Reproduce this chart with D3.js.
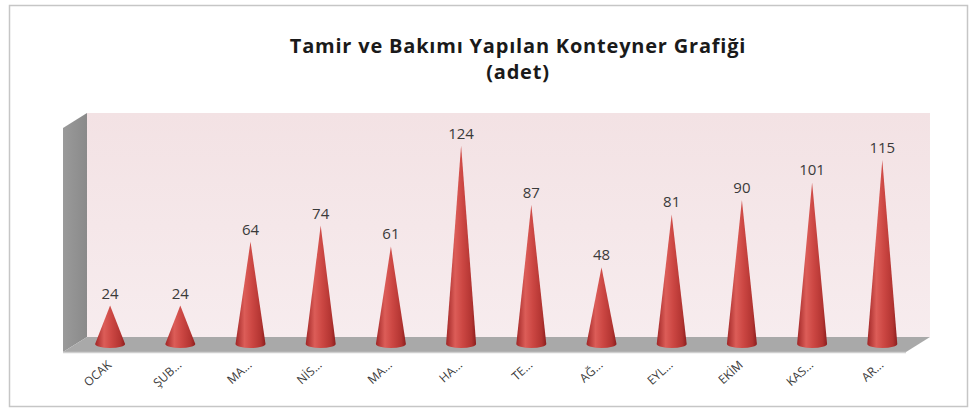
<!DOCTYPE html>
<html>
<head>
<meta charset="utf-8">
<script src="https://cdn.jsdelivr.net/npm/d3@7"></script>
<style>
  html, body { margin: 0; padding: 0; background: #fff; }
  svg { display: block; }
</style>
</head>
<body>
<svg id="chart"></svg>
<script>
var width = 974;
var height = 412;

var months = ['OCAK', 'ŞUB...', 'MA...', 'NİS...', 'MA...', 'HA...', 'TE...', 'AĞ...', 'EYL...', 'EKİM', 'KAS...', 'AR...'];
var counts = [24, 24, 64, 74, 61, 124, 87, 48, 81, 90, 101, 115];
var titleLines = ['Tamir ve Bakımı Yapılan Konteyner Grafiği', '(adet)'];

var data = months.map(function(m, i) { return {month: m, value: counts[i], idx: i}; });

// 3d box geometry
var depth = {dx: 24, dy: -15};
var floorFront = 352;
var wallLeft = 63;
var wallRight = 906;
var base = floorFront + depth.dy / 2 - 0.5;

var svg = d3.select('#chart')
	.attr('width', width)
	.attr('height', height);

var defs = svg.append('defs');

var coneGrad = defs.append('linearGradient')
	.attr('id', 'coneGrad')
	.attr('x1', '0').attr('x2', '1').attr('y1', '0').attr('y2', '0');
[['0%', '#a02626'], ['30%', '#dc5d58'], ['55%', '#cc4743'], ['85%', '#b23431'], ['100%', '#8c1e1e']].forEach(function(s) {
	coneGrad.append('stop').attr('offset', s[0]).attr('stop-color', s[1]);
});

var sideGrad = defs.append('linearGradient')
	.attr('id', 'sideGrad')
	.attr('x1', '0').attr('x2', '1').attr('y1', '0').attr('y2', '0');
sideGrad.append('stop').attr('offset', '0%').attr('stop-color', '#9a9a9a');
sideGrad.append('stop').attr('offset', '100%').attr('stop-color', '#8a8a8a');

var wallGrad = defs.append('linearGradient')
	.attr('id', 'wallGrad')
	.attr('x1', '0').attr('x2', '0').attr('y1', '0').attr('y2', '1');
wallGrad.append('stop').attr('offset', '0%').attr('stop-color', '#f3e2e4');
wallGrad.append('stop').attr('offset', '100%').attr('stop-color', '#f7ecee');

// outer frame
svg.append('rect')
	.attr('x', 9.5).attr('y', 5.5)
	.attr('width', 958).attr('height', 401)
	.attr('fill', '#fff')
	.attr('stroke', '#c6c6c6')
	.attr('stroke-width', 1.5);

// scales
var x = d3.scaleBand()
	.range([75, 75 + 70.2 * months.length])
	.paddingInner(0)
	.paddingOuter(0)
	.domain(months.map(function(d, i) { return i; }));

var y = d3.scaleLinear()
	.domain([0, 140])
	.range([base, base - 224]);

var backBottom = floorFront + depth.dy;
var backTop = backBottom - 224;

// back wall
svg.append('rect')
	.attr('x', wallLeft + depth.dx)
	.attr('y', backTop)
	.attr('width', wallRight - wallLeft)
	.attr('height', backBottom - backTop)
	.attr('fill', 'url(#wallGrad)');

// side wall
svg.append('path')
	.attr('d', 'M' + wallLeft + ',' + (backTop - depth.dy) +
		' L' + (wallLeft + depth.dx) + ',' + backTop +
		' L' + (wallLeft + depth.dx) + ',' + backBottom +
		' L' + wallLeft + ',' + floorFront + ' Z')
	.attr('fill', 'url(#sideGrad)');

// floor
svg.append('path')
	.attr('d', 'M' + (wallLeft + depth.dx) + ',' + backBottom +
		' L' + (wallRight + depth.dx) + ',' + backBottom +
		' L' + wallRight + ',' + floorFront +
		' L' + wallLeft + ',' + floorFront + ' Z')
	.attr('fill', '#a9a9a9');

svg.append('line')
	.attr('x1', wallLeft).attr('x2', wallRight)
	.attr('y1', floorFront + 0.5).attr('y2', floorFront + 0.5)
	.attr('stroke', '#cfcfcf')
	.attr('stroke-width', 1.5);

// cones
var rx = 15, ry = 4;
svg.selectAll('path.cone')
	.data(data)
	.enter().append('path')
	.attr('class', 'cone')
	.attr('fill', 'url(#coneGrad)')
	.attr('d', function(d) {
		var cx = x(d.idx) + x.bandwidth() / 2;
		var tip = y(d.value);
		return 'M' + (cx - rx) + ',' + base +
			' L' + cx + ',' + tip +
			' L' + (cx + rx) + ',' + base +
			' A' + rx + ',' + ry + ' 0 0 1 ' + (cx - rx) + ',' + base + ' Z';
	});

// value labels
svg.selectAll('text.val')
	.data(data)
	.enter().append('text')
	.attr('class', 'val')
	.attr('x', function(d) { return x(d.idx) + x.bandwidth() / 2; })
	.attr('y', function(d) { return y(d.value) - 7; })
	.attr('text-anchor', 'middle')
	.attr('font-family', 'Open Sans, sans-serif')
	.attr('font-size', 15)
	.attr('fill', '#3a3a3a')
	.text(function(d) { return d.value; });

// category labels, rotated
svg.selectAll('g.cat')
	.data(data)
	.enter().append('g')
	.attr('class', 'cat')
	.attr('transform', function(d) {
		var cx = x(d.idx) + x.bandwidth() / 2 + 2;
		return 'translate(' + cx + ',366) rotate(-42)';
	})
	.append('text')
	.attr('text-anchor', 'end')
	.attr('font-family', 'Open Sans, sans-serif')
	.attr('font-size', 12)
	.attr('fill', '#3a3a3a')
	.text(function(d) { return d.month; });

// title
svg.selectAll('text.title')
	.data(titleLines)
	.enter().append('text')
	.attr('class', 'title')
	.attr('x', 518)
	.attr('y', function(d, i) { return 53 + i * 26; })
	.attr('text-anchor', 'middle')
	.attr('font-family', 'Open Sans, sans-serif')
	.attr('font-weight', 'bold')
	.attr('font-size', 20)
	.attr('letter-spacing', 0.8)
	.attr('fill', '#1a1a1a')
	.text(function(d) { return d; });
</script>
</body>
</html>
